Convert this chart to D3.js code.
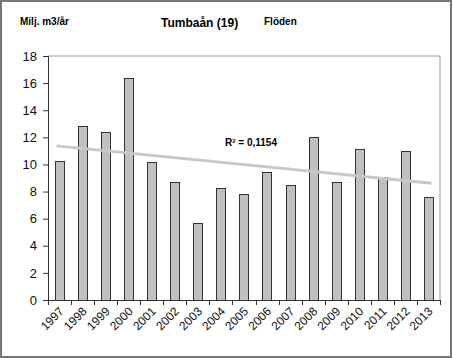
<!DOCTYPE html>
<html><head><meta charset="utf-8">
<script src="https://cdn.jsdelivr.net/npm/d3@7"></script>
<style>body{margin:0;background:#fff}svg{display:block;font-family:"Liberation Sans",Arial,sans-serif}</style>
</head><body>
<svg id="c" width="453" height="358"></svg>
<script>
const years = ["1997","1998","1999","2000","2001","2002","2003","2004","2005","2006","2007","2008","2009","2010","2011","2012","2013"];
const flows = [10.25,12.8,12.39,16.37,10.18,8.7,5.68,8.26,7.82,9.44,8.48,12.0,8.7,11.13,9.1,10.99,7.6];
const yTicks = [0,2,4,6,8,10,12,14,16,18];
const titleText = "Tumbaån (19)";
const unitText = "Milj. m3/år";
const subText = "Flöden";
const r2Text = "R² = 0,1154";

const svg = d3.select("#c");
const m = {l:48, r:440, t:56, b:300};

svg.append("rect").attr("x",1).attr("y",1).attr("width",450).attr("height",356)
  .attr("fill","#fff").attr("stroke","#777").attr("stroke-width",2);

const x = d3.scaleBand().domain(years).range([m.l, m.r]).paddingInner(0.6).paddingOuter(0.3);
const y = d3.scaleLinear().domain([0,18]).range([m.b, m.t]);

// plot frame
svg.append("path").attr("d",`M${m.l},${m.t}H${m.r}V${m.b}`).attr("fill","none").attr("stroke","#999").attr("stroke-width",1);

// bars
svg.append("g").selectAll("rect").data(flows).join("rect")
  .attr("x",(d,i)=>Math.round(x(years[i]))+0.5)
  .attr("y",d=>Math.round(y(d))+0.5)
  .attr("width",Math.round(x.bandwidth()))
  .attr("height",d=>Math.round(y(0))-Math.round(y(d)))
  .attr("fill","#c0c0c0").attr("stroke","#333").attr("stroke-width",1);

// trend line (least squares)
const n = flows.length, xs = d3.range(n);
const mx = d3.mean(xs), my = d3.mean(flows);
const slope = d3.sum(xs,i=>(i-mx)*(flows[i]-my))/d3.sum(xs,i=>(i-mx)*(i-mx));
const icpt = my - slope*mx;
const cx = i => x(years[i]) + x.bandwidth()/2;
svg.append("line").attr("x1",cx(0)-3).attr("x2",cx(n-1)+3)
  .attr("y1",y(icpt+slope*(-3/ (x.step()))))
  .attr("y2",y(icpt+slope*(n-1+3/x.step())))
  .attr("stroke","#c8c8c8").attr("stroke-width",3);

// y axis
const ya = svg.append("g").attr("transform",`translate(${m.l},0)`)
  .call(d3.axisLeft(y).tickValues(yTicks).tickSize(5).tickPadding(6));
ya.select(".domain").attr("stroke","#333");
ya.selectAll(".tick line").attr("stroke","#333");
ya.selectAll("text").attr("font-size",13).attr("fill","#111").attr("font-family","Liberation Sans, Arial, sans-serif");

// x axis with ticks at band boundaries
const bounds = d3.range(n+1).map(i => m.l + i*(m.r-m.l)/n);
svg.append("line").attr("x1",m.l).attr("x2",m.r).attr("y1",m.b+0.5).attr("y2",m.b+0.5).attr("stroke","#333");
svg.append("g").selectAll("line").data(bounds).join("line")
  .attr("x1",d=>Math.round(d)+0.5).attr("x2",d=>Math.round(d)+0.5)
  .attr("y1",m.b).attr("y2",m.b+5).attr("stroke","#333");
svg.append("g").selectAll("text").data(years).join("text")
  .attr("transform",(d,i)=>`translate(${cx(i)+5},${m.b+12}) rotate(-45)`)
  .attr("text-anchor","end").attr("font-size",12).attr("fill","#111").text(d=>d);

// texts
svg.append("text").attr("x",20).attr("y",25).attr("font-size",10).attr("font-weight","bold").text(unitText);
svg.append("text").attr("x",161).attr("y",27).attr("font-size",12).attr("font-weight","bold").text(titleText);
svg.append("text").attr("x",264).attr("y",25).attr("font-size",10).attr("font-weight","bold").text(subText);
svg.append("text").attr("x",225).attr("y",146).attr("font-size",10).attr("font-weight","bold").text(r2Text);
</script>
</body></html>
